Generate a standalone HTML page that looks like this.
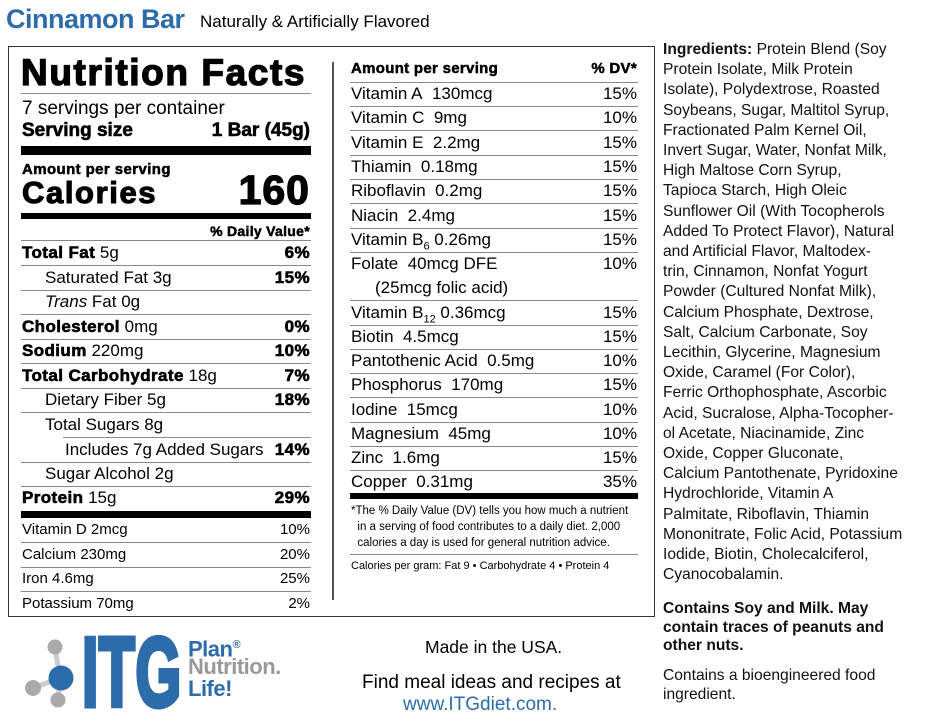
<!DOCTYPE html>
<html><head><meta charset="utf-8"><style>
body{margin:0;width:937px;height:724px;background:#fff;position:relative;overflow:hidden;font-family:"Liberation Sans",Arial,sans-serif;color:#000}
div{position:absolute;white-space:nowrap}
.r{height:24px;line-height:24px;font-size:17px}
.L{left:22px;width:288px}
.R{left:351px;width:286px}
.p{position:absolute;right:0;top:0}
.b{font-weight:bold;-webkit-text-stroke:0.6px #000;letter-spacing:0.4px}
.hl{height:1px;background:#888}
.lh{left:21px;width:290px}
.rh{left:350px;width:288px}
.tb{background:#000}
.ing{left:663px;font-size:15.6px;line-height:20.2px;color:#111}
</style></head><body>
<div style="left:6px;top:4px;font-size:27px;font-weight:bold;color:#2d6cab;letter-spacing:-0.5px">Cinnamon Bar</div>
<div style="left:200px;top:12px;font-size:17px">Naturally &amp; Artificially Flavored</div>
<div style="left:8px;top:46px;width:645px;height:569px;border:1px solid #333"></div>
<div style="left:332px;top:62px;width:2px;height:538px;background:#555"></div>

<div style="left:21px;top:52px;font-size:37px;font-weight:bold;letter-spacing:1.6px;-webkit-text-stroke:1.3px #000">Nutrition Facts</div>
<div class="hl lh" style="top:93px"></div>
<div style="left:22px;top:98px;font-size:19px">7 servings per container</div>
<div style="left:22px;top:120px;width:288px;font-size:19px;font-weight:bold;-webkit-text-stroke:0.6px #000">Serving size<span class="p">1 Bar (45g)</span></div>
<div class="tb lh" style="top:146px;height:9px"></div>
<div style="left:22px;top:161px;font-size:15px;font-weight:bold;-webkit-text-stroke:0.5px #000;letter-spacing:0.4px">Amount per serving</div>
<div style="left:22px;top:175px;font-size:31px;font-weight:bold;-webkit-text-stroke:1.1px #000;letter-spacing:1.6px">Calories</div>
<div style="left:210px;top:167px;width:100px;text-align:right;font-size:41px;font-weight:bold;-webkit-text-stroke:1.3px #000;letter-spacing:1px">160</div>
<div class="tb lh" style="top:213px;height:6px"></div>
<div style="left:22px;top:223px;width:288px;text-align:right;font-size:14px;font-weight:bold;-webkit-text-stroke:0.5px #000;letter-spacing:0.3px">% Daily Value*</div>
<div class="hl lh" style="top:240px"></div>

<div class="r L" style="top:241px"><b class="b">Total Fat</b> 5g<span class="p b">6%</span></div>
<div class="hl lh" style="top:265px"></div>
<div class="r L" style="top:266px;left:45px;width:265px">Saturated Fat 3g<span class="p b">15%</span></div>
<div class="hl lh" style="top:290px"></div>
<div class="r L" style="top:290px;left:45px"><i>Trans</i> Fat 0g</div>
<div class="hl lh" style="top:314px"></div>
<div class="r L" style="top:315px"><b class="b">Cholesterol</b> 0mg<span class="p b">0%</span></div>
<div class="hl lh" style="top:339px"></div>
<div class="r L" style="top:339px"><b class="b">Sodium</b> 220mg<span class="p b">10%</span></div>
<div class="hl lh" style="top:363px"></div>
<div class="r L" style="top:364px"><b class="b">Total Carbohydrate</b> 18g<span class="p b">7%</span></div>
<div class="hl lh" style="top:388px"></div>
<div class="r L" style="top:388px;left:45px;width:265px">Dietary Fiber 5g<span class="p b">18%</span></div>
<div class="hl lh" style="top:412px"></div>
<div class="r L" style="top:413px;left:45px">Total Sugars 8g</div>
<div class="hl" style="top:437px;left:63px;width:248px"></div>
<div class="r L" style="top:438px;left:65px;width:245px">Includes 7g Added Sugars<span class="p b">14%</span></div>
<div class="hl lh" style="top:462px"></div>
<div class="r L" style="top:462px;left:45px">Sugar Alcohol 2g</div>
<div class="hl lh" style="top:486px"></div>
<div class="r L" style="top:486px"><b class="b">Protein</b> 15g<span class="p b">29%</span></div>
<div class="tb lh" style="top:511px;height:7px"></div>
<div class="r L" style="top:518px;font-size:15px">Vitamin D 2mcg<span class="p">10%</span></div>
<div class="hl lh" style="top:542px"></div>
<div class="r L" style="top:543px;font-size:15px">Calcium 230mg<span class="p">20%</span></div>
<div class="hl lh" style="top:567px"></div>
<div class="r L" style="top:567px;font-size:15px">Iron 4.6mg<span class="p">25%</span></div>
<div class="hl lh" style="top:591px"></div>
<div class="r L" style="top:592px;font-size:15px">Potassium 70mg<span class="p">2%</span></div>

<div class="r R" style="top:57px;font-size:15px;font-weight:bold;-webkit-text-stroke:0.5px #000;letter-spacing:0.3px">Amount per serving<span class="p">% DV*</span></div>
<div class="hl rh" style="top:82px"></div>
<div class="r R" style="top:82px">Vitamin A&nbsp; 130mcg<span class="p">15%</span></div>
<div class="hl rh" style="top:106px"></div>
<div class="r R" style="top:106px">Vitamin C&nbsp; 9mg<span class="p">10%</span></div>
<div class="hl rh" style="top:130px"></div>
<div class="r R" style="top:131px">Vitamin E&nbsp; 2.2mg<span class="p">15%</span></div>
<div class="hl rh" style="top:155px"></div>
<div class="r R" style="top:155px">Thiamin&nbsp; 0.18mg<span class="p">15%</span></div>
<div class="hl rh" style="top:179px"></div>
<div class="r R" style="top:179px">Riboflavin&nbsp; 0.2mg<span class="p">15%</span></div>
<div class="hl rh" style="top:203px"></div>
<div class="r R" style="top:204px">Niacin&nbsp; 2.4mg<span class="p">15%</span></div>
<div class="hl rh" style="top:228px"></div>
<div class="r R" style="top:228px">Vitamin B<sub style="font-size:11px">6</sub> 0.26mg<span class="p">15%</span></div>
<div class="hl rh" style="top:252px"></div>
<div class="r R" style="top:252px">Folate&nbsp; 40mcg DFE<span class="p">10%</span></div>
<div class="r R" style="top:276px;left:375px;width:262px">(25mcg folic acid)</div>
<div class="hl rh" style="top:300px"></div>
<div class="r R" style="top:301px">Vitamin B<sub style="font-size:11px">12</sub> 0.36mcg<span class="p">15%</span></div>
<div class="hl rh" style="top:325px"></div>
<div class="r R" style="top:325px">Biotin&nbsp; 4.5mcg<span class="p">15%</span></div>
<div class="hl rh" style="top:349px"></div>
<div class="r R" style="top:349px">Pantothenic Acid&nbsp; 0.5mg<span class="p">10%</span></div>
<div class="hl rh" style="top:373px"></div>
<div class="r R" style="top:373px">Phosphorus&nbsp; 170mg<span class="p">15%</span></div>
<div class="hl rh" style="top:397px"></div>
<div class="r R" style="top:398px">Iodine&nbsp; 15mcg<span class="p">10%</span></div>
<div class="hl rh" style="top:422px"></div>
<div class="r R" style="top:422px">Magnesium&nbsp; 45mg<span class="p">10%</span></div>
<div class="hl rh" style="top:446px"></div>
<div class="r R" style="top:446px">Zinc&nbsp; 1.6mg<span class="p">15%</span></div>
<div class="hl rh" style="top:470px"></div>
<div class="r R" style="top:470px">Copper&nbsp; 0.31mg<span class="p">35%</span></div>
<div class="tb rh" style="top:493px;height:6px"></div>
<div style="left:351px;top:503px;font-size:11.5px;line-height:16px">*The % Daily Value (DV) tells you how much a nutrient<br>&nbsp; in a serving of food contributes to a daily diet. 2,000<br>&nbsp; calories a day is used for general nutrition advice.</div>
<div class="hl rh" style="top:554px"></div>
<div style="left:351px;top:560px;font-size:11px">Calories per gram: Fat 9 • Carbohydrate 4 • Protein 4</div>

<div class="ing" style="top:40px"><b>Ingredients:</b> Protein Blend (Soy<br>Protein Isolate, Milk Protein<br>Isolate), Polydextrose, Roasted<br>Soybeans, Sugar, Maltitol Syrup,<br>Fractionated Palm Kernel Oil,<br>Invert Sugar, Water, Nonfat Milk,<br>High Maltose Corn Syrup,<br>Tapioca Starch, High Oleic<br>Sunflower Oil (With Tocopherols<br>Added To Protect Flavor), Natural<br>and Artificial Flavor, Maltodex-<br>trin, Cinnamon, Nonfat Yogurt<br>Powder (Cultured Nonfat Milk),<br>Calcium Phosphate, Dextrose,<br>Salt, Calcium Carbonate, Soy<br>Lecithin, Glycerine, Magnesium<br>Oxide, Caramel (For Color),<br>Ferric Orthophosphate, Ascorbic<br>Acid, Sucralose, Alpha-Tocopher-<br>ol Acetate, Niacinamide, Zinc<br>Oxide, Copper Gluconate,<br>Calcium Pantothenate, Pyridoxine<br>Hydrochloride, Vitamin A<br>Palmitate, Riboflavin, Thiamin<br>Mononitrate, Folic Acid, Potassium<br>Iodide, Biotin, Cholecalciferol,<br>Cyanocobalamin.</div>
<div class="ing" style="top:600px;font-weight:bold;line-height:18.5px">Contains Soy and Milk. May<br>contain traces of peanuts and<br>other nuts.</div>
<div class="ing" style="top:666px;line-height:19px">Contains a bioengineered food<br>ingredient.</div>

<div style="left:425px;top:637px;font-size:17.5px">Made in the USA.</div>
<div style="left:362px;top:672px;font-size:19px">Find meal ideas and recipes at</div>
<div style="left:403px;top:694px;font-size:19px;color:#2d6cab">www.ITGdiet.com.</div>

<svg style="position:absolute;left:0;top:620px" width="200" height="104">
<line x1="55" y1="27" x2="60" y2="58" stroke="#ccc" stroke-width="5"/>
<line x1="33" y1="68" x2="60" y2="58" stroke="#ccc" stroke-width="5"/>
<line x1="58" y1="80" x2="60" y2="58" stroke="#ccc" stroke-width="5"/>
<circle cx="55" cy="27" r="7.5" fill="#aaa"/>
<circle cx="33" cy="68" r="8" fill="#aaa"/>
<circle cx="58" cy="80" r="7.5" fill="#aaa"/>
<circle cx="61" cy="58" r="12.5" fill="#2d6cab"/>
</svg>
<div style="left:82px;top:617px;font-weight:bold;font-size:98px;line-height:110px;color:#2d6cab;-webkit-text-stroke:5px #2d6cab;transform:scaleX(0.6);transform-origin:left;letter-spacing:1px">ITG</div>
<div style="left:188px;top:634px;font-size:22px;line-height:22px;font-weight:bold;color:#2d6cab;letter-spacing:-0.5px">Plan<sup style="font-size:11px">®</sup></div>
<div style="left:188px;top:656px;font-size:22px;line-height:22px;font-weight:bold;color:#999;letter-spacing:-0.5px">Nutrition.</div>
<div style="left:188px;top:678px;font-size:22px;line-height:22px;font-weight:bold;color:#2d6cab;letter-spacing:-0.5px">Life!</div>
</body></html>
